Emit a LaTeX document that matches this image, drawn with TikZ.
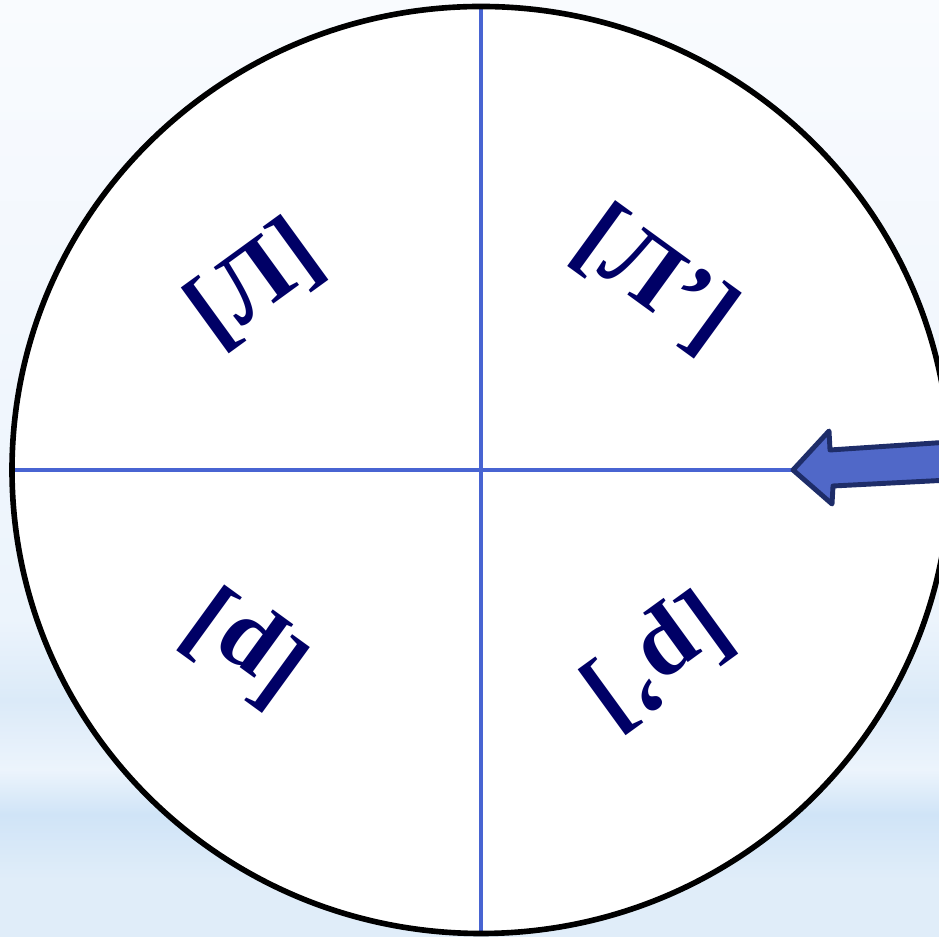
\documentclass[tikz,border=0pt]{standalone}
\usepackage{fontspec}
\setmainfont{Liberation Serif}
\usepackage{tikz}
\usetikzlibrary{arrows.meta, positioning, calc}

\definecolor{navyink}{RGB}{0,0,102}
\definecolor{axisblue}{RGB}{72,100,210}
\definecolor{arrowfill}{RGB}{80,104,200}
\definecolor{arrowedge}{RGB}{30,45,105}
\definecolor{skytop}{RGB}{249,251,254}
\definecolor{skyhigh}{RGB}{240,246,253}
\definecolor{skymid}{RGB}{236,244,252}
\definecolor{skyband}{RGB}{219,234,248}
\definecolor{skydeep}{RGB}{208,228,247}
\definecolor{skylow}{RGB}{224,237,249}

% middle 50bp of the shading fills the page
\pgfdeclareverticalshading{skyshade}{100bp}{%
  color(0bp)=(skylow); color(25bp)=(skylow); color(28bp)=(skylow);
  color(31.5bp)=(skydeep); color(33.9bp)=(skymid); color(37.6bp)=(skyband);
  color(41.9bp)=(skymid); color(53.6bp)=(skyhigh); color(75bp)=(skytop);
  color(100bp)=(skytop)}

\tikzset{
  sound/.style={font=\fontsize{28}{28}\selectfont\bfseries, text=navyink, inner sep=0pt},
  axis/.style={draw=axisblue, line width=0.9pt},
  pointer/.style={fill=arrowfill, draw=arrowedge, line width=1.4pt, line join=round}
}

\begin{document}
\begin{tikzpicture}[>=Stealth, thick]
  % Page and background
  \clip (0,0) rectangle (9.39,9.36);
  \shade[shading=skyshade] (0,0) rectangle (9.39,9.36);

  % Wheel
  \coordinate (c) at (4.81,4.66);
  \fill[white] (c) ellipse (4.69 and 4.635);
  \coordinate (top) at ($(c)+(0,4.635)$);
  \coordinate (bottom) at ($(c)+(0,-4.635)$);
  \coordinate (west) at ($(c)+(-4.69,0)$);
  \coordinate (tip) at (7.93,4.66);
  \draw[axis] (top) -- (bottom);
  \draw[axis] (west) -- (tip);
  \draw[black, line width=1.6pt] (c) ellipse (4.69 and 4.635);

  % Sounds in the four sectors
  \node[sound, rotate=36] (hardl) at (2.55,6.52) {[Л]};
  \node[sound, rotate=-36] (softl) at (6.55,6.56) {[Л’]};
  \node[sound, rotate=144] (hardr) at (2.46,2.90) {[р]};
  \node[sound, rotate=-144] (softr) at (6.56,2.77) {[р’]};

  % Pointer
  \draw[pointer] (tip) -- (8.29,5.05) -- (8.30,4.86) -- (9.50,4.94)
    -- (9.50,4.56) -- (8.33,4.50) -- (8.32,4.32) -- cycle;
\end{tikzpicture}
\end{document}
